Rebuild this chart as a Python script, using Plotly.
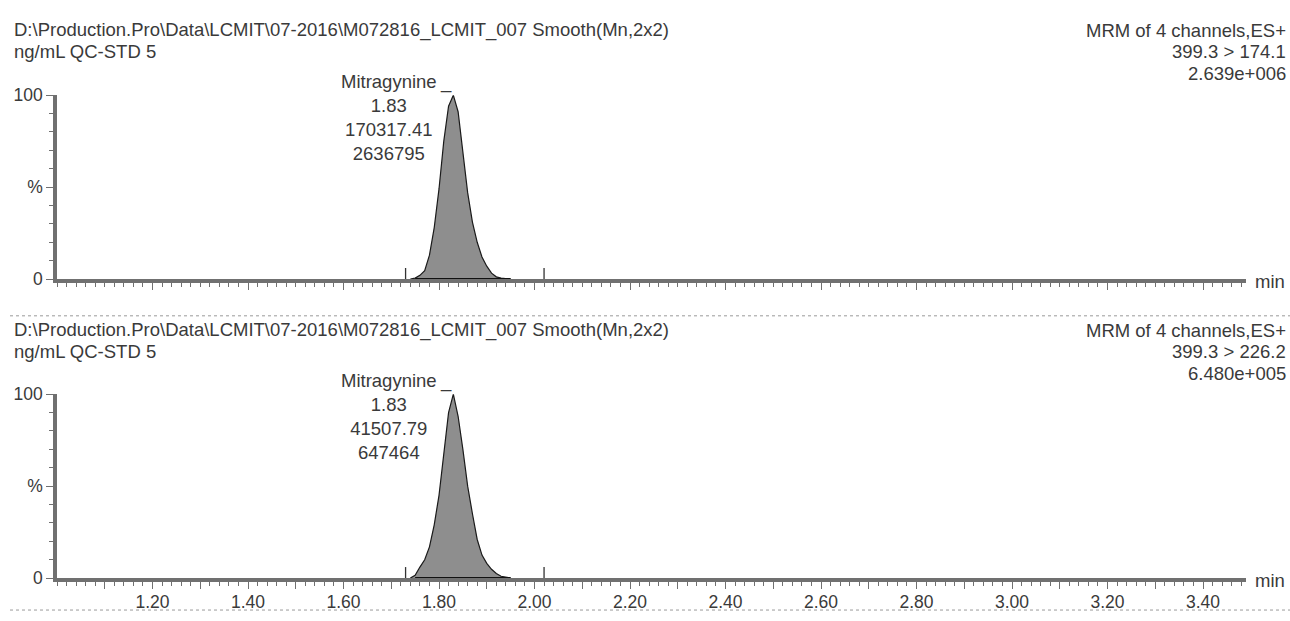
import plotly.graph_objects as go

W, H = 1290, 621

# ---------------- data ----------------
header_path = "D:\\Production.Pro\\Data\\LCMIT\\07-2016\\M072816_LCMIT_007 Smooth(Mn,2x2)"
header_sample = "ng/mL QC-STD 5"
header_scan = "MRM of 4 channels,ES+"
transitions = ["399.3 > 174.1", "399.3 > 226.2"]
intensities = ["2.639e+006", "6.480e+005"]

compound = "Mitragynine"
peak_rt = [1.83, 1.83]
peak_area = ["170317.41", "41507.79"]
peak_height = ["2636795", "647464"]

rt_top = [1.74, 1.75, 1.76, 1.77, 1.78, 1.79, 1.80, 1.81, 1.82, 1.83, 1.84, 1.85,
          1.86, 1.87, 1.88, 1.89, 1.90, 1.91, 1.92, 1.93, 1.94, 1.95]
pct_top = [0, 0.5, 2, 4.5, 13, 28, 49, 75, 94, 100, 91, 70,
           47, 31, 20, 12, 7, 3.2, 1.2, 0.5, 0.2, 0]

rt_bot = [1.74, 1.75, 1.76, 1.77, 1.78, 1.79, 1.80, 1.81, 1.82, 1.83, 1.84, 1.85,
          1.86, 1.87, 1.88, 1.89, 1.90, 1.91, 1.92, 1.93, 1.94, 1.95]
pct_bot = [0, 1.5, 6, 10, 17, 29, 45, 68, 90, 100, 88, 70,
           50, 35, 21, 12.5, 8, 4.8, 2.5, 1, 0.3, 0]

integ_start = [1.75, 1.75]
integ_end = [1.95, 1.95]
marker_times = [1.73, 2.02]
marker_height = 6

x_range = [1.00, 3.49]
tick_labels = ["1.20", "1.40", "1.60", "1.80", "2.00", "2.20", "2.40",
               "2.60", "2.80", "3.00", "3.20", "3.40"]

# ---------------- styling ----------------
TXT = "#3a3a3a"
AX = "#707070"
FONT = "Liberation Sans, Arial, sans-serif"
FS = 18.5


def px_x(p):
    return p / W


def px_y(p):
    return 1 - p / H


label_vals = [float(t) for t in tick_labels]
major_vals = sorted(set([round(v, 2) for v in label_vals] + [round(v - 0.1, 2) for v in label_vals]))
major_text = [t if t in tick_labels else "" for t in ["%.2f" % v for v in major_vals]]

fig = go.Figure()

panels = [
    dict(xa="x", ya="y", top=88, bot=278, rt=rt_top, pct=pct_top, off=0),
    dict(xa="x2", ya="y2", top=397, bot=587, rt=rt_bot, pct=pct_bot, off=310),
]

annotations = []
shapes = []

for i, p in enumerate(panels):
    fig.add_trace(go.Scatter(
        x=p["rt"], y=p["pct"], xaxis=p["xa"], yaxis=p["ya"], mode="lines",
        line=dict(color="#1a1a1a", width=1.2), fill="tozeroy", fillcolor="#8e8e8e",
        hoverinfo="skip", showlegend=False))
    fig.add_trace(go.Scatter(
        x=[integ_start[i], integ_end[i]], y=[0, 0], xaxis=p["xa"], yaxis=p["ya"], mode="lines",
        line=dict(color="#111111", width=2), hoverinfo="skip", showlegend=False))
    mx, my = [], []
    for t in marker_times:
        mx += [t, t, None]
        my += [0, marker_height, None]
    fig.add_trace(go.Scatter(
        x=mx, y=my, xaxis=p["xa"], yaxis=p["ya"], mode="lines",
        line=dict(color="#333333", width=1.3), hoverinfo="skip", showlegend=False))

    off = p["off"]
    annotations += [
        dict(text=header_path, x=px_x(12), y=px_y(21 + off), xref="paper", yref="paper",
             xanchor="left", yanchor="middle", showarrow=False),
        dict(text=header_sample, x=px_x(12), y=px_y(43 + off), xref="paper", yref="paper",
             xanchor="left", yanchor="middle", showarrow=False),
        dict(text=header_scan, x=px_x(1288), y=px_y(21 + off), xref="paper", yref="paper",
             xanchor="right", yanchor="middle", showarrow=False),
        dict(text=transitions[i], x=px_x(1288), y=px_y(43 + off), xref="paper", yref="paper",
             xanchor="right", yanchor="middle", showarrow=False),
        dict(text=intensities[i], x=px_x(1288), y=px_y(66 + off), xref="paper", yref="paper",
             xanchor="right", yanchor="middle", showarrow=False),
        dict(text="min", x=px_x(1253), y=px_y(p["bot"] + 3), xref="paper", yref="paper",
             xanchor="left", yanchor="middle", showarrow=False),
    ]
    annotations += [
        dict(text="<br>".join([compound, "%.2f" % peak_rt[i], peak_area[i], peak_height[i]]),
             x=peak_rt[i], y=100, xref=p["xa"], yref=p["ya"], xanchor="right", yanchor="top",
             xshift=-14, yshift=26, align="center", showarrow=False),
        dict(text="_", x=peak_rt[i], y=100, xref=p["xa"], yref=p["ya"], xanchor="right",
             yanchor="top", xshift=1, yshift=26, showarrow=False),
    ]

for yy in [316, 620]:
    shapes.append(dict(type="line", xref="paper", yref="paper", x0=px_x(10), x1=1,
                       y0=px_y(yy), y1=px_y(yy), line=dict(color="#9a9a9a", width=1, dash="dot")))

xdom = [px_x(57), px_x(1246)]


def xaxis_cfg(show_labels, anchor):
    return dict(domain=xdom, range=x_range, anchor=anchor, showgrid=False, zeroline=False,
                showline=True, linecolor=AX, linewidth=3.5,
                tickmode="array", tickvals=major_vals, ticktext=major_text,
                ticks="outside", ticklen=7, tickwidth=1.3, tickcolor=AX,
                showticklabels=show_labels, ticklabelstandoff=-2,
                tickfont=dict(size=17.5, color=TXT, family=FONT),
                minor=dict(tickmode="linear", tick0=1.0, dtick=0.02, ticks="outside",
                           ticklen=4, tickwidth=1, tickcolor=AX, showgrid=False),
                fixedrange=True)


def yaxis_cfg(top, bot, anchor):
    return dict(domain=[px_y(bot), px_y(top)], range=[0, 100], anchor=anchor,
                showgrid=False, zeroline=False, showline=True, linecolor=AX, linewidth=3.5,
                tickmode="array", tickvals=[0, 50, 100], ticktext=["0", "%", "100"],
                ticks="outside", ticklen=7, tickwidth=1.3, tickcolor=AX,
                tickfont=dict(size=17.5, color=TXT, family=FONT),
                minor=dict(tickmode="linear", tick0=0, dtick=10, ticks="outside",
                           ticklen=4, tickwidth=1, tickcolor=AX, showgrid=False),
                fixedrange=True)


fig.update_layout(
    width=W, height=H, autosize=False,
    margin=dict(l=0, r=0, t=0, b=0),
    paper_bgcolor="white", plot_bgcolor="white",
    font=dict(family=FONT, size=FS, color=TXT),
    xaxis=xaxis_cfg(False, "y"),
    yaxis=yaxis_cfg(88, 278, "x"),
    xaxis2=xaxis_cfg(True, "y2"),
    yaxis2=yaxis_cfg(397, 587, "x2"),
    annotations=annotations,
    shapes=shapes,
    showlegend=False,
)

fig.write_html("out.html", config={"displayModeBar": False},
               post_script="document.body.style.margin='0';document.body.style.padding='0';")
